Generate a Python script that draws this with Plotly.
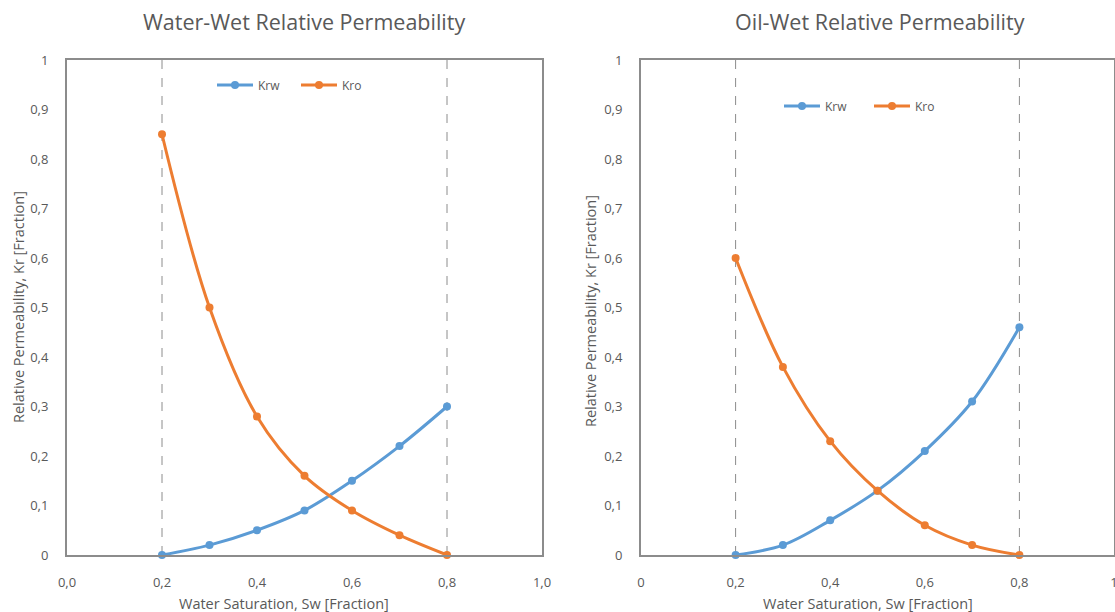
import plotly.graph_objects as go

# Water saturation points (fraction)
sw = [0.2, 0.3, 0.4, 0.5, 0.6, 0.7, 0.8]

# Water-wet rock
ww_krw = [0.0, 0.02, 0.05, 0.09, 0.15, 0.22, 0.30]
ww_kro = [0.85, 0.50, 0.28, 0.16, 0.09, 0.04, 0.0]

# Oil-wet rock
ow_krw = [0.0, 0.02, 0.07, 0.13, 0.21, 0.31, 0.46]
ow_kro = [0.60, 0.38, 0.23, 0.13, 0.06, 0.02, 0.0]

# Saturation end points (connate water, residual oil)
endpoints = [0.2, 0.8]

# Tick labels (decimal comma)
y_tickvals = [0, 0.1, 0.2, 0.3, 0.4, 0.5, 0.6, 0.7, 0.8, 0.9, 1.0]
y_ticktext = ["0", "0,1", "0,2", "0,3", "0,4", "0,5", "0,6", "0,7", "0,8", "0,9", "1"]
x_tickvals = [0, 0.2, 0.4, 0.6, 0.8, 1.0]
x_ticktext_left = ["0,0", "0,2", "0,4", "0,6", "0,8", "1,0"]
x_ticktext_right = ["0", "0,2", "0,4", "0,6", "0,8", "1"]

BLUE = "#5B9BD5"
ORANGE = "#ED7D31"
TEXT = "#595959"
FRAME = "#8C8C8C"
FONT = "Open Sans"

W, H = 1115, 612

fig = go.Figure()

def add_pair(krw, kro, xa, ya, legend):
    fig.add_trace(go.Scatter(
        x=sw, y=krw, name="Krw", mode="lines+markers",
        line=dict(color=BLUE, width=3, shape="spline"),
        marker=dict(color=BLUE, size=8),
        xaxis=xa, yaxis=ya, legend=legend, cliponaxis=False))
    fig.add_trace(go.Scatter(
        x=sw, y=kro, name="Kro", mode="lines+markers",
        line=dict(color=ORANGE, width=3, shape="spline"),
        marker=dict(color=ORANGE, size=8),
        xaxis=xa, yaxis=ya, legend=legend, cliponaxis=False))

add_pair(ww_krw, ww_kro, "x", "y", "legend")
add_pair(ow_krw, ow_kro, "x2", "y2", "legend2")

# Dashed verticals at the end-point saturations
for xr in ("x", "x2"):
    for e in endpoints:
        fig.add_shape(type="line", xref=xr, yref=("y" if xr == "x" else "y2"),
                      x0=e, x1=e, y0=0, y1=1,
                      line=dict(color="#8C8C8C", width=1, dash="dash"),
                      layer="below")

ytop = 1 - 60 / H
ybot = 1 - 555 / H
dom_left = [67 / W, 542 / W]
dom_right = [641 / W, 1114 / W]

axis_common = dict(showgrid=False, zeroline=False, showline=True, mirror=True,
                   linecolor=FRAME, linewidth=2, ticks="", automargin=False,
                   ticklabeloverflow="allow",
                   tickfont=dict(family=FONT, size=13, color=TEXT))

legend_common = dict(orientation="h", xanchor="left", yanchor="middle",
                     itemwidth=36, entrywidthmode="pixels",
                     bgcolor="rgba(0,0,0,0)", font=dict(family=FONT, size=12, color=TEXT))

fig.update_layout(
    template="none",
    width=W, height=H,
    margin=dict(l=0, r=0, t=0, b=0, pad=0),
    paper_bgcolor="white", plot_bgcolor="white",
    font=dict(family=FONT, color=TEXT),
    xaxis=dict(domain=dom_left, range=[0, 1], tickvals=x_tickvals,
               ticktext=x_ticktext_left, ticklabelstandoff=14, anchor="y", **axis_common),
    yaxis=dict(domain=[ybot, ytop], range=[0, 1], tickvals=y_tickvals,
               ticktext=y_ticktext, ticklabelstandoff=14, anchor="x", **axis_common),
    xaxis2=dict(domain=dom_right, range=[0, 1], tickvals=x_tickvals,
                ticktext=x_ticktext_right, ticklabelstandoff=14, anchor="y2", **axis_common),
    yaxis2=dict(domain=[ybot, ytop], range=[0, 1], tickvals=y_tickvals,
                ticktext=y_ticktext, ticklabelstandoff=14, anchor="x2", **axis_common),
    legend=dict(x=212 / W, y=1 - 85 / H, entrywidth=33, **legend_common),
    legend2=dict(x=779 / W, y=1 - 106 / H, entrywidth=39, **legend_common),
)

def text(x, y, s, size, angle=0):
    fig.add_annotation(x=x / W, y=1 - y / H, xref="paper", yref="paper", text=s,
                       showarrow=False, textangle=angle, xanchor="center", yanchor="middle",
                       font=dict(family=FONT, size=size, color=TEXT))

text(304, 22, "Water-Wet Relative Permeability", 21.5)
text(880, 22, "Oil-Wet Relative Permeability", 21.5)
text(284, 603, "Water Saturation, Sw [Fraction]", 14.5)
text(868, 603, "Water Saturation, Sw [Fraction]", 14.5)
text(18, 307, "Relative Permeability, Kr [Fraction]", 14.5, -90)
text(590, 311, "Relative Permeability, Kr [Fraction]", 14.5, -90)

fig.write_html("out.html")
